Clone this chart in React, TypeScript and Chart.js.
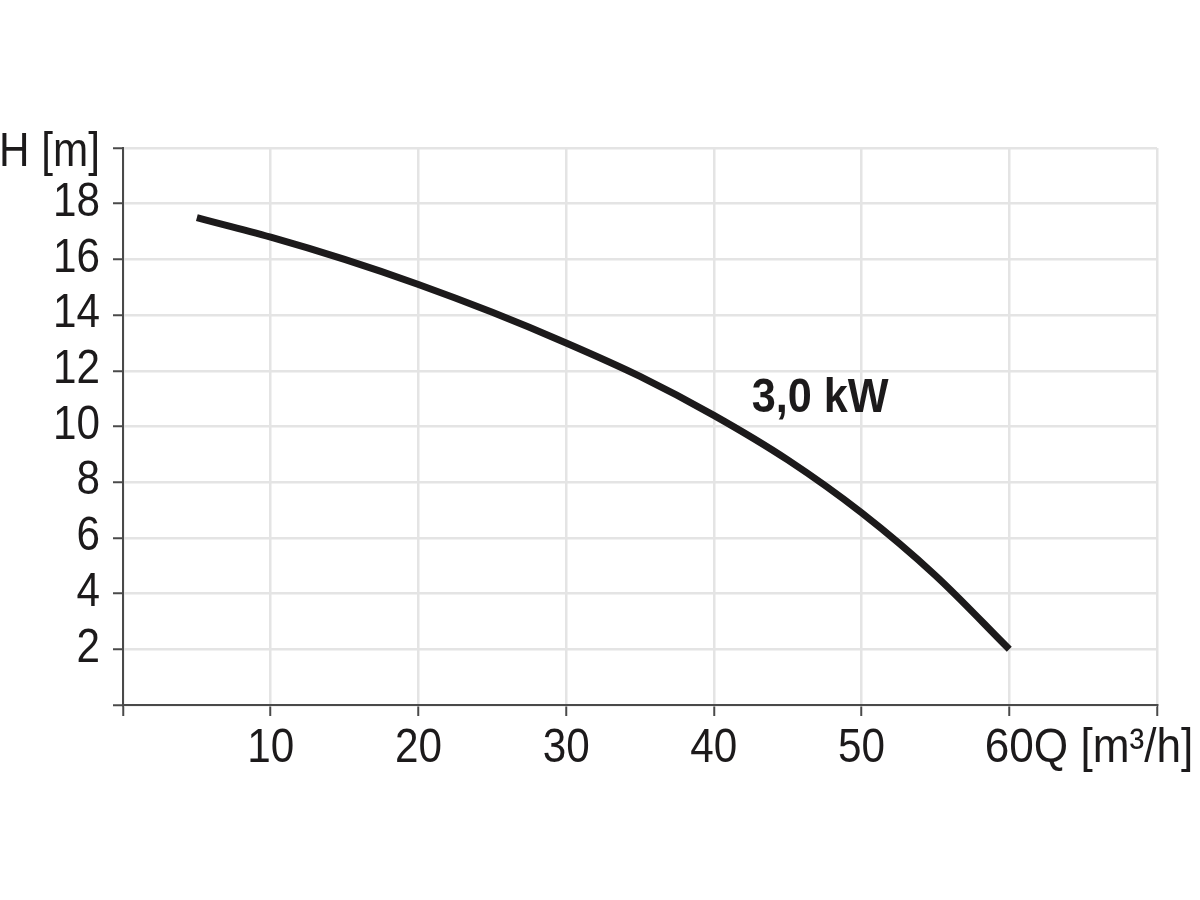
import React, { useEffect, useRef } from "react";
import { Chart, registerables } from "chart.js";

Chart.register(...registerables);

const flowQ = [5, 10, 15, 20, 25, 30, 35, 40, 45, 50, 55, 60];
const headH = [17.5, 16.8, 16.0, 15.1, 14.1, 13.0, 11.8, 10.4, 8.8, 6.9, 4.65, 2.0];
const xTickValues = [10, 20, 30, 40, 50, 60];
const xTickLabels = ["10", "20", "30", "40", "50", "60"];
const xUnitLabel = "Q [m³/h]";
const yTickValues = [2, 4, 6, 8, 10, 12, 14, 16, 18, 20];
const yTickLabels = ["2", "4", "6", "8", "10", "12", "14", "16", "18", "H [m]"];
const curveLabel = "3,0 kW";
const curveLabelPos = { x: 47.2, y: 11.0 };

const FONT = "'Liberation Sans', Arial, sans-serif";
const SX = 0.88;
const TEXT = "#1c1a1b";

function drawNarrow(ctx: any, text: string, x: number, y: number, align: "left" | "right" | "center", font: string, sx = SX) {
  ctx.save();
  ctx.font = font;
  ctx.fillStyle = TEXT;
  ctx.textBaseline = "middle";
  ctx.textAlign = align;
  ctx.translate(x, y);
  ctx.scale(sx, 1);
  ctx.fillText(text, 0, 0);
  ctx.restore();
}

export default function App() {
  const ref = useRef<HTMLCanvasElement>(null);
  useEffect(() => {
    if (!ref.current) return;
    const labelPlugin = {
      id: "labels",
      afterDraw(chart: any) {
        const ctx = chart.ctx;
        const xs = chart.scales.x;
        const ys = chart.scales.y;
        const reg = `48px ${FONT}`;
        yTickValues.forEach((v, i) => {
          const py = ys.getPixelForValue(v) + (i === yTickValues.length - 1 ? 5 : -1);
          drawNarrow(ctx, yTickLabels[i], 100, py, "right", reg);
        });
        const labelY = xs.top + 44;
        xTickValues.forEach((v, i) => {
          const px = xs.getPixelForValue(v);
          if (i === xTickValues.length - 1) {
            ctx.save();
            ctx.font = reg;
            const w = ctx.measureText(xTickLabels[i]).width * 0.92;
            ctx.restore();
            drawNarrow(ctx, xTickLabels[i] + xUnitLabel, px - w / 2, labelY, "left", reg, 0.92);
          } else {
            drawNarrow(ctx, xTickLabels[i], px, labelY, "center", reg);
          }
        });
        drawNarrow(
          ctx,
          curveLabel,
          xs.getPixelForValue(curveLabelPos.x),
          ys.getPixelForValue(curveLabelPos.y),
          "center",
          `bold 48px ${FONT}`,
          0.9
        );
      },
    };
    const chart = new Chart(ref.current, {
      type: "line",
      data: {
        datasets: [
          {
            data: flowQ.map((q, i) => ({ x: q, y: headH[i] })),
            borderColor: "#1c1a1b",
            borderWidth: 7,
            pointRadius: 0,
            cubicInterpolationMode: "monotone",
            borderCapStyle: "butt",
            fill: false,
          },
        ],
      },
      options: {
        animation: false,
        responsive: false,
        layout: { padding: { top: 148, right: 43, left: 0, bottom: 0 } },
        plugins: { legend: { display: false }, tooltip: { enabled: false } },
        scales: {
          x: {
            type: "linear",
            min: 0,
            max: 70,
            afterFit: (s: any) => {
              s.height = 195;
            },
            border: { color: "#4a4a4a", width: 2 },
            grid: { color: "#e4e4e4", lineWidth: 2.5, tickColor: "#4a4a4a", tickLength: 11, tickWidth: 2 },
            ticks: {
              stepSize: 10,
              autoSkip: false,
              maxRotation: 0,
              font: { family: FONT, size: 12 },
              callback: () => "",
            },
          },
          y: {
            type: "linear",
            min: 0,
            max: 20,
            afterFit: (s: any) => {
              s.width = 123;
            },
            border: { color: "#4a4a4a", width: 2 },
            grid: { color: "#e4e4e4", lineWidth: 2.5, tickColor: "#4a4a4a", tickLength: 10, tickWidth: 2 },
            ticks: {
              stepSize: 2,
              autoSkip: false,
              font: { family: FONT, size: 12 },
              callback: () => "",
            },
          },
        },
      },
      plugins: [labelPlugin],
    } as any);
    return () => chart.destroy();
  }, []);
  return (
    <div style={{ position: "fixed", left: 0, top: 0, width: 1200, height: 900, background: "#fff" }}>
      <canvas ref={ref} width={1200} height={900} style={{ width: 1200, height: 900 }} />
    </div>
  );
}
